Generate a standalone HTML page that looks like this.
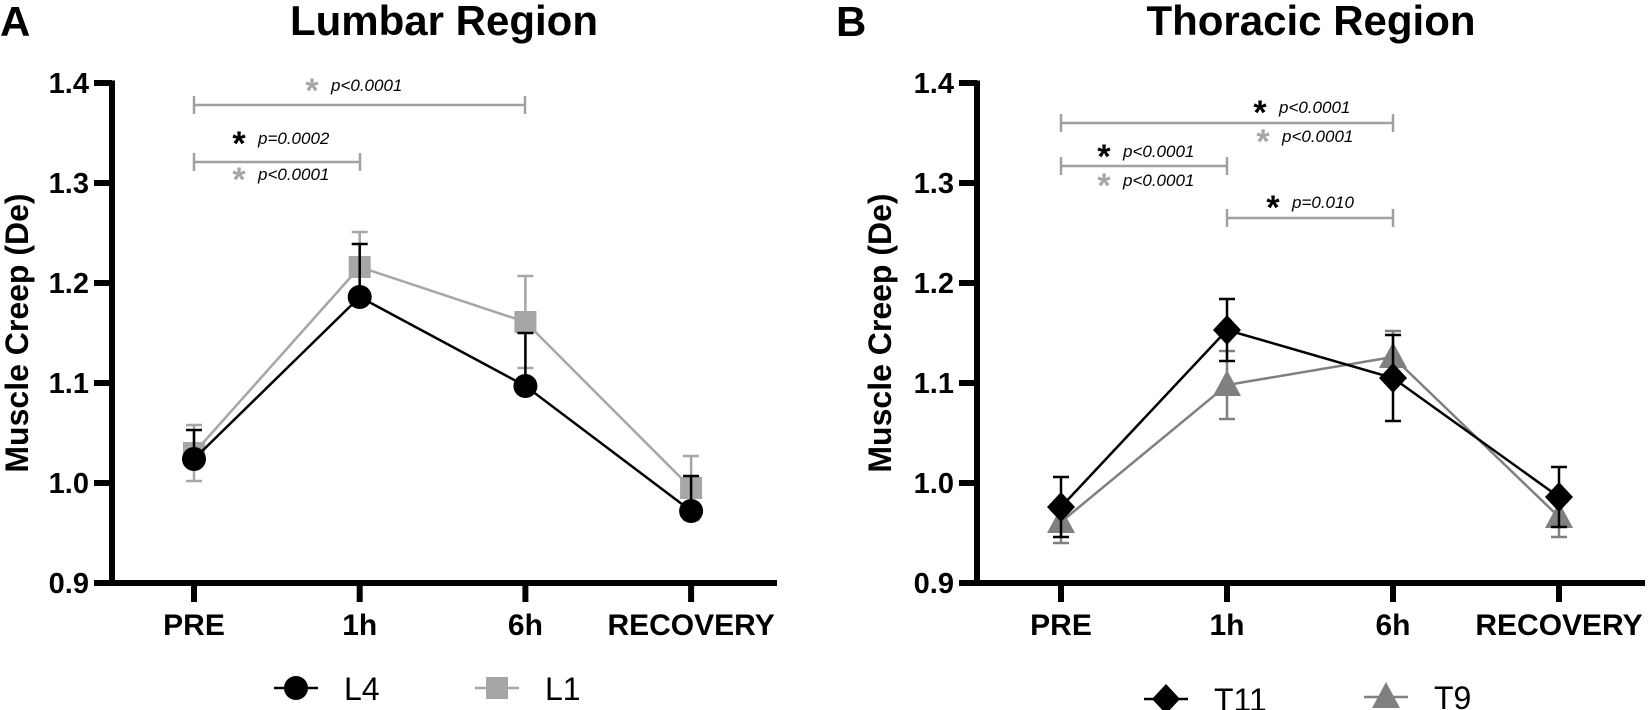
<!DOCTYPE html>
<html><head><meta charset="utf-8">
<style>
html,body{margin:0;padding:0;background:#fff;}
svg{display:block;font-family:"Liberation Sans",Arial,sans-serif;}
</style></head>
<body>
<svg id="chart" width="1650" height="710" viewBox="0 0 1650 710" xmlns="http://www.w3.org/2000/svg">
<text x="0" y="36" font-size="42" font-weight="bold">A</text>
<text x="444" y="35" font-size="42" font-weight="bold" text-anchor="middle">Lumbar Region</text>
<text x="836" y="36" font-size="42" font-weight="bold">B</text>
<text x="1311" y="35" font-size="42" font-weight="bold" text-anchor="middle">Thoracic Region</text>
<text transform="translate(28,333) rotate(-90)" font-size="32" font-weight="bold" text-anchor="middle">Muscle Creep (De)</text>
<text transform="translate(891,333) rotate(-90)" font-size="32" font-weight="bold" text-anchor="middle">Muscle Creep (De)</text>
<g id="layer"></g>
</svg>
<script>
const categories = ["PRE", "1h", "6h", "RECOVERY"];
const yTicks = [0.9, 1.0, 1.1, 1.2, 1.3, 1.4];
const yTickLabels = ["0.9", "1.0", "1.1", "1.2", "1.3", "1.4"];
const l4Values = [1.024, 1.186, 1.097, 0.972];
const l4Err = [0.029, 0.053, 0.053, 0.035];
const l1Values = [1.030, 1.216, 1.161, 0.995];
const l1Err = [0.028, 0.035, 0.046, 0.032];
const t11Values = [0.976, 1.153, 1.105, 0.986];
const t11Err = [0.030, 0.031, 0.043, 0.030];
const t9Values = [0.961, 1.098, 1.126, 0.966];
const t9Err = [0.021, 0.034, 0.026, 0.020];

const NS = "http://www.w3.org/2000/svg";
const layer = document.getElementById("layer");
function mk(tag, attrs, parent) {
  const e = document.createElementNS(NS, tag);
  for (const k in attrs) e.setAttribute(k, attrs[k]);
  (parent || layer).appendChild(e);
  return e;
}
const panels = [
  {x0: 112, x1: 777, xPre: 194, step: 165.7, key: "left"},
  {x0: 977, x1: 1645, xPre: 1061, step: 166, key: "right"}
];
function yScale(v) { return 583 - (v - 0.9) * 1000; }
function xScale(p, i) { return p.xPre + i * p.step; }

panels.forEach(p => {
  const g = mk("g", {});
  
  
  const ya = mk("line", {x1: p.x0, y1: yScale(1.4) - 2.5, x2: p.x0, y2: 585.5, stroke: "#000", "stroke-width": 6}, g);
  
  
  const xa = mk("line", {x1: p.x0 - 18, y1: 583, x2: p.x1, y2: 583, stroke: "#000", "stroke-width": 6}, g);
  
  
  yTicks.forEach((t, i) => {
    const y = yScale(t);
    const tk = mk("line", {x1: p.x0 - 18, y1: y, x2: p.x0, y2: y, stroke: "#000", "stroke-width": 6}, g);
    
    
    const lb = mk("text", {x: p.x0 - 23, y: y + 10, "font-size": 29, "font-weight": "bold", "text-anchor": "end"}, g);
    lb.textContent = yTickLabels[i];
    
    
  });
  categories.forEach((c, i) => {
    const x = xScale(p, i);
    const tk = mk("line", {x1: x, y1: 583, x2: x, y2: 602, stroke: "#000", "stroke-width": 6}, g);
    
    
    const lb = mk("text", {x: x, y: 635, "font-size": 30, "font-weight": "bold", "text-anchor": "middle"}, g);
    lb.textContent = c;
    
    
  });
});

function marker(shape, x, y, color, parent) {
  let e;
  if (shape === "circle") e = mk("circle", {cx: x, cy: y, r: 12, fill: color}, parent);
  else if (shape === "square") e = mk("rect", {x: x - 11, y: y - 11, width: 22, height: 22, fill: color}, parent);
  else if (shape === "diamond") e = mk("polygon", {points: `${x},${y-15} ${x+14},${y} ${x},${y+15} ${x-14},${y}`, fill: color}, parent);
  else e = mk("polygon", {points: `${x},${y-15} ${x+14},${y+11} ${x-14},${y+11}`, fill: color}, parent);
  return e;
}

function series(p, vals, errs, color, shape, name, down) {
  const g = mk("g", {});
  
  
  vals.forEach((v, i) => {
    const x = xScale(p, i);
    const eb = mk("g", {stroke: color, "stroke-width": 2.5}, g);
    
    
    const top = yScale(v + errs[i]);
    const bot = down ? yScale(v - errs[i]) : yScale(v);
    mk("line", {x1: x, y1: top, x2: x, y2: bot}, eb);
    mk("line", {x1: x - 8, y1: top, x2: x + 8, y2: top}, eb);
    if (down) mk("line", {x1: x - 8, y1: bot, x2: x + 8, y2: bot}, eb);
  });
  const pts = vals.map((v, i) => xScale(p, i) + "," + yScale(v)).join(" ");
  const ln = mk("polyline", {points: pts, fill: "none", stroke: color, "stroke-width": 2.5}, g);
  
  
  vals.forEach((v, i) => {
    const m = marker(shape, xScale(p, i), yScale(v), color, g);
    
    
  });
}
series(panels[0], l1Values, l1Err, "#a6a6a6", "square", "l1", true);
series(panels[0], l4Values, l4Err, "#000", "circle", "l4", false);
series(panels[1], t9Values, t9Err, "#808080", "triangle", "t9", true);
series(panels[1], t11Values, t11Err, "#000", "diamond", "t11", true);

function bracket(x1, x2, y, name) {
  const g = mk("g", {stroke: "#a0a0a0", "stroke-width": 2.5});
  
  
  mk("line", {x1: x1, y1: y, x2: x2, y2: y}, g);
  mk("line", {x1: x1, y1: y - 9, x2: x1, y2: y + 9}, g);
  mk("line", {x1: x2, y1: y - 9, x2: x2, y2: y + 9}, g);
}
function annot(x, y, color, txt, name) {
  const g = mk("g", {});
  
  
  const s = mk("text", {x: x, y: y + 17, "font-size": 34, "font-weight": "bold", "text-anchor": "middle", fill: color}, g);
  s.textContent = "*";
  const t = mk("text", {x: x + 19, y: y + 6, "font-size": 17, "font-style": "italic", fill: "#000"}, g);
  t.textContent = txt;
}
bracket(194, 525, 105, "bracket-pre-6h-lumbar");
annot(312, 85, "#a6a6a6", "p<0.0001", "sig-l1-pre-6h");
bracket(194, 360, 162, "bracket-pre-1h-lumbar");
annot(239, 138, "#000", "p=0.0002", "sig-l4-pre-1h");
annot(239, 174, "#a6a6a6", "p<0.0001", "sig-l1-pre-1h");

bracket(1061, 1393, 123, "bracket-pre-6h-thoracic");
annot(1260, 107, "#000", "p<0.0001", "sig-t11-pre-6h");
annot(1263, 136, "#a6a6a6", "p<0.0001", "sig-t9-pre-6h");
bracket(1061, 1227, 166, "bracket-pre-1h-thoracic");
annot(1104, 151, "#000", "p<0.0001", "sig-t11-pre-1h");
annot(1104, 180, "#a6a6a6", "p<0.0001", "sig-t9-pre-1h");
bracket(1227, 1393, 218, "bracket-1h-6h-thoracic");
annot(1273, 202, "#000", "p=0.010", "sig-t11-1h-6h");

function legend(x, y, color, shape, label, name) {
  const g = mk("g", {});
  
  
  mk("line", {x1: x - 22, y1: y, x2: x + 22, y2: y, stroke: color, "stroke-width": 2.5}, g);
  marker(shape, x, y, color, g);
  const t = mk("text", {x: x + 48, y: y + 12, "font-size": 32}, g);
  t.textContent = label;
}
legend(296, 688, "#000", "circle", "L4", "legend-l4");
legend(497, 688, "#a6a6a6", "square", "L1", "legend-l1");
legend(1166, 699, "#000", "diamond", "T11", "legend-t11");
legend(1386, 697, "#808080", "triangle", "T9", "legend-t9");
</script>
</body></html>
